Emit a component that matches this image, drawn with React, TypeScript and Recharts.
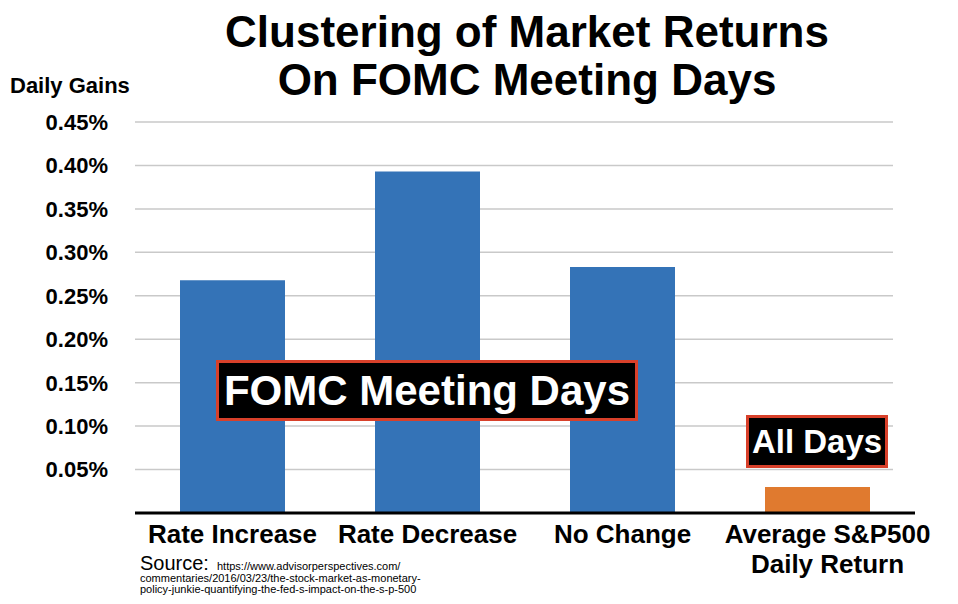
import React from 'react'
import { BarChart, Bar, XAxis, YAxis, CartesianGrid, Cell } from 'recharts'

// values (daily gain, in %)
const categories = ['Rate Increase', 'Rate Decrease', 'No Change', 'Average S&P500\nDaily Return']
const dailyGains = [0.268, 0.393, 0.283, 0.03]
const groups = ['FOMC', 'FOMC', 'FOMC', 'All']
const yTicks = [0.05, 0.1, 0.15, 0.2, 0.25, 0.3, 0.35, 0.4, 0.45]

const FONT = '"Liberation Sans", Arial, Helvetica, sans-serif'
const groupColor: Record<string, string> = { FOMC: '#3473b7', All: '#e07a2f' }

const chartData = categories.map((name, i) => ({ name, gain: dailyGains[i], group: groups[i] }))

const YTick = ({ y, payload }: any) => (
  <text x={108} y={y} dy="0.36em" textAnchor="end" fontFamily={FONT} fontWeight="bold" fontSize={22} fill="#000">
    {payload.value.toFixed(2)}%
  </text>
)

const XTick = ({ x, y, payload }: any) => {
  const lines = String(payload.value).split('\n')
  return (
    <text x={x} y={y} textAnchor="middle" fontFamily={FONT} fontWeight="bold" fontSize={26} fill="#000">
      {lines.map((line, i) => (
        <tspan key={i} x={lines.length > 1 ? x + 10 : x} dy={i === 0 ? 22 : 30}>{line}</tspan>
      ))}
    </text>
  )
}

const GridLine = (props: any) => (
  <line key={props.key} x1={props.x1} x2={props.x2 - 22} y1={props.y1} y2={props.y2} stroke="#c9c9c9" strokeWidth={1.5} />
)

const Box = ({ left, top, width, height, size, text }: any) => (
  <div
    style={{
      position: 'absolute', left, top, width, height, boxSizing: 'border-box',
      background: '#000', border: '3px solid #d8402a', color: '#fff',
      fontFamily: FONT, fontWeight: 'bold', fontSize: size,
      display: 'flex', alignItems: 'center', justifyContent: 'center', whiteSpace: 'nowrap'
    }}
  >
    {text}
  </div>
)

export default function App() {
  return (
    <div style={{ position: 'absolute', left: 0, top: 0, width: 958, height: 604, background: '#fff', overflow: 'hidden' }}>
      <BarChart width={958} height={604} data={chartData} margin={{ top: 122, right: 43, left: 0, bottom: 0 }}>
        <CartesianGrid vertical={false} horizontal={GridLine} />
        <YAxis
          width={135}
          domain={[0, 0.45]}
          ticks={yTicks}
          axisLine={false}
          tickLine={false}
          tick={<YTick />}
        />
        <XAxis
          dataKey="name"
          height={91}
          interval={0}
          axisLine={{ stroke: '#000', strokeWidth: 3 }}
          tickLine={false}
          tick={<XTick />}
        />
        <Bar dataKey="gain" barSize={105} isAnimationActive={false}>
          {chartData.map((d, i) => (
            <Cell key={i} fill={groupColor[d.group]} />
          ))}
        </Bar>
      </BarChart>

      <svg width={958} height={604} style={{ position: 'absolute', left: 0, top: 0, pointerEvents: 'none' }}>
        <text x={527} y={47} textAnchor="middle" fontFamily={FONT} fontWeight="bold" fontSize={44} fill="#000">
          Clustering of Market Returns
        </text>
        <text x={527} y={95} textAnchor="middle" fontFamily={FONT} fontWeight="bold" fontSize={44} fill="#000">
          On FOMC Meeting Days
        </text>
        <text x={10} y={93} fontFamily={FONT} fontWeight="bold" fontSize={22} fill="#000">Daily Gains</text>
        <text x={140} y={570} fontFamily={FONT} fontSize={20} fill="#000">Source:</text>
        <text x={217} y={570} fontFamily={FONT} fontSize={11} fill="#000">https://www.advisorperspectives.com/</text>
        <text x={140} y={582} fontFamily={FONT} fontSize={11} fill="#000">commentaries/2016/03/23/the-stock-market-as-monetary-</text>
        <text x={140} y={593} fontFamily={FONT} fontSize={11} fill="#000">policy-junkie-quantifying-the-fed-s-impact-on-the-s-p-500</text>
      </svg>

      <Box left={216} top={360} width={422} height={61} size={42} text="FOMC Meeting Days" />
      <Box left={746} top={415} width={142} height={53} size={33} text="All Days" />
    </div>
  )
}
